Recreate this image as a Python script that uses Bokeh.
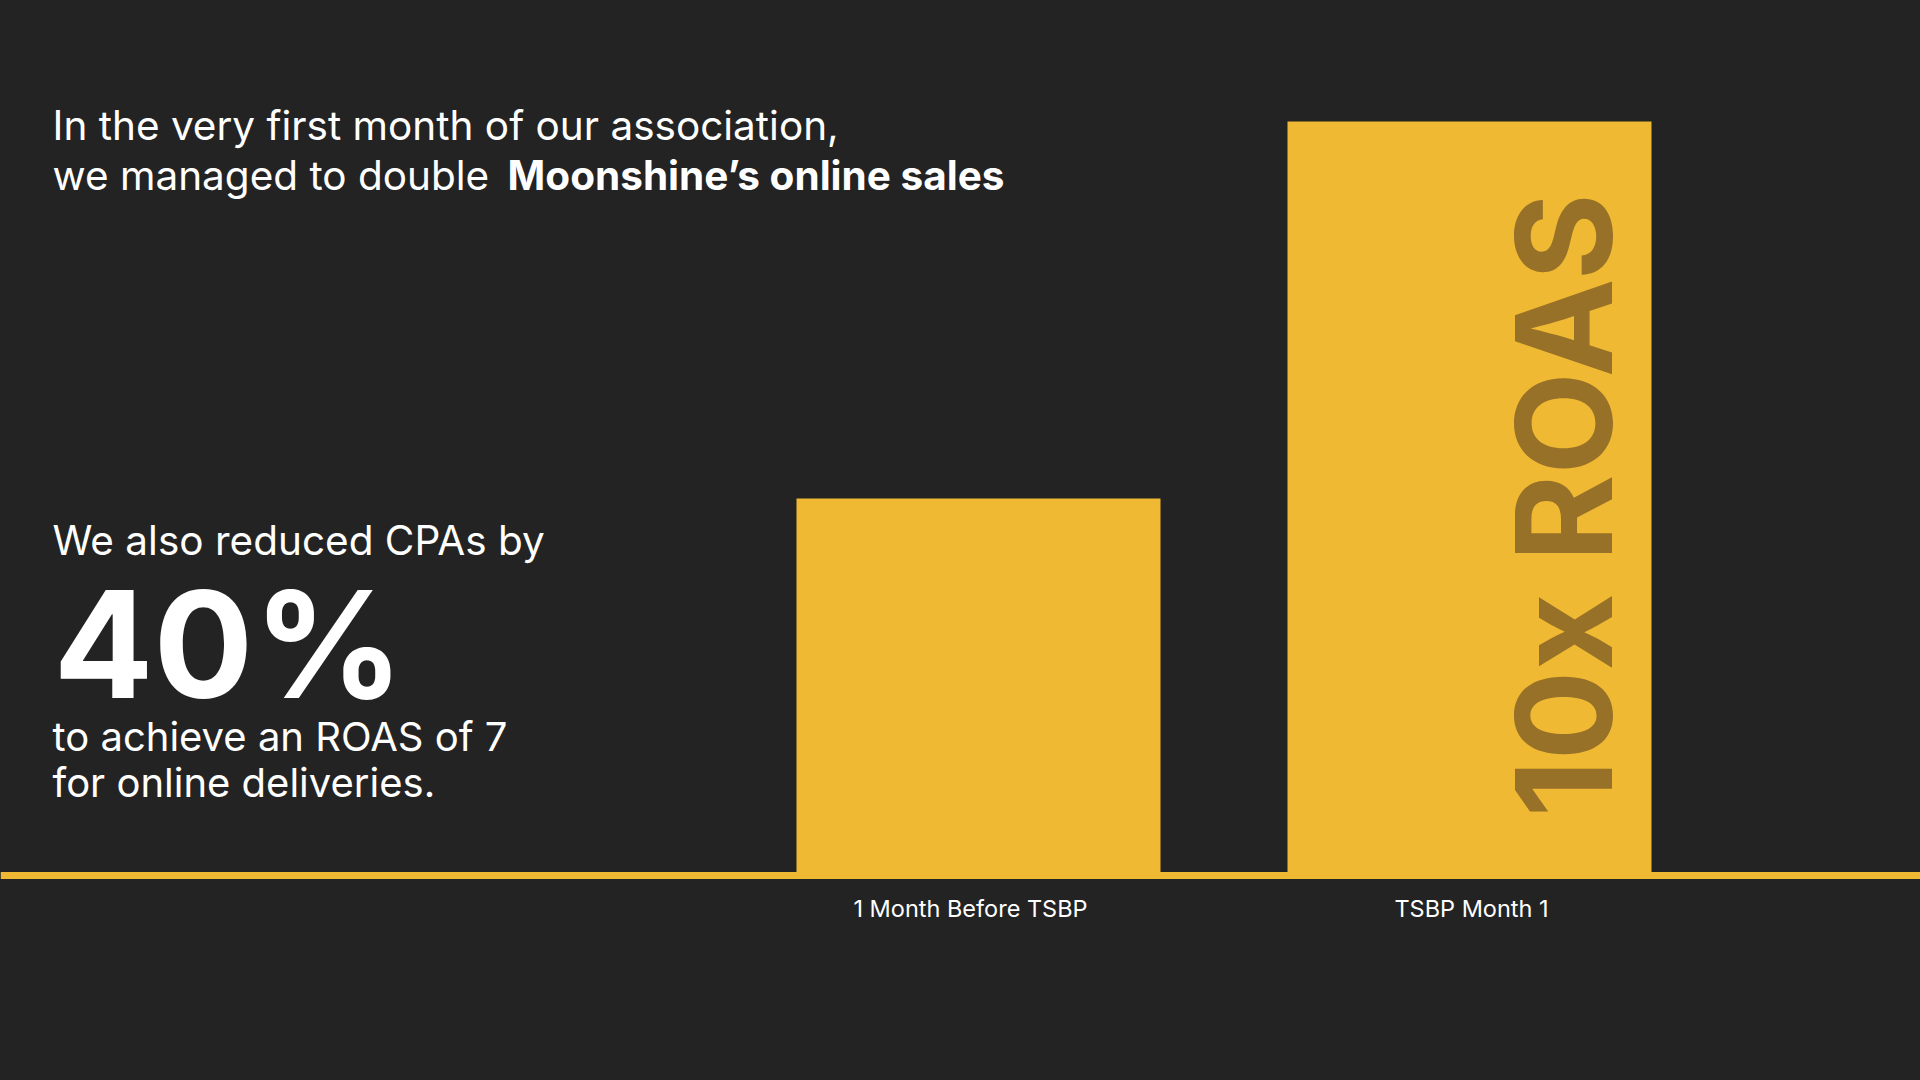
import math
from bokeh.plotting import figure
from bokeh.models import Range1d, Span, ColumnDataSource
from bokeh.core.properties import value
from bokeh.embed import file_html
from bokeh.resources import INLINE

# ---- data ----
categories = ["1 Month Before TSBP", "TSBP Month 1"]
sales_index = [1.0, 2.0]          # online sales, relative (doubled)
bar_callout = "10x ROAS"
headline_1 = "In the very first month of our association,"
headline_2a = "we managed to double"
headline_2b = "Moonshine\u2019s online sales"
cpa_intro = "We also reduced CPAs by"
cpa_value = "40%"
cpa_outro_1 = "to achieve an ROAS of 7"
cpa_outro_2 = "for online deliveries."

# ---- layout (pixels) ----
W, H = 1920, 1080
BASE_PX = 875          # baseline pixel row
UNIT_Y = 377           # pixels per sales unit
C0_PX, STEP_PX = 978, 491
BAR_W = 364 / STEP_PX

x0 = -C0_PX / STEP_PX
x1 = (W - C0_PX) / STEP_PX
y0 = -(H - BASE_PX) / UNIT_Y
y1 = BASE_PX / UNIT_Y

def dx(px):
    return x0 + px / STEP_PX

def dy(py):
    return (BASE_PX - py) / UNIT_Y

BG = "#232323"
YEL = "#F0B933"
DARK = "#977127"
FONT = "Inter"

p = figure(width=W, height=H, output_backend="svg", toolbar_location=None,
           x_range=Range1d(x0, x1), y_range=Range1d(y0, y1),
           x_axis_location=None, y_axis_location=None, min_border=0)
p.background_fill_color = BG
p.border_fill_color = BG
p.outline_line_color = None
p.grid.visible = False
p.styles = {"background-color": BG}

xs = list(range(len(categories)))
p.vbar(x=xs, top=sales_index, bottom=0, width=BAR_W, fill_color=YEL, line_color=None)
p.add_layout(Span(location=0, dimension="width", line_color=YEL, line_width=7))

# category labels under bars
lab_src = ColumnDataSource(dict(x=xs, y=[dy(908)] * len(xs), text=categories,
                                xo=[-8, 2]))
p.text(x="x", y="y", text="text", x_offset="xo", source=lab_src,
       text_font=value(FONT), text_font_size="23.5px", text_color="#FFFFFF",
       text_align="center", text_baseline="alphabetic")

# rotated callout inside the tall bar
p.text(x=[dx(1563)], y=[dy(817)], text=[bar_callout], angle=math.pi / 2,
       text_font=value(FONT), text_font_style="bold", text_font_size="133px",
       text_color=DARK, text_align="left", text_baseline="alphabetic")

def label(px, py, s, size, style="normal", align="left"):
    p.text(x=[dx(px)], y=[dy(py)], text=[s], text_font=value(FONT),
           text_font_style=style, text_font_size=size, text_color="#FFFFFF",
           text_align=align, text_baseline="alphabetic")

label(52, 125, headline_1, "40.5px")
label(52, 175, headline_2a, "40.5px")
label(1004, 175, headline_2b, "40.5px", "bold", "right")
label(52, 540, cpa_intro, "40.5px")
label(53, 644, cpa_value, "148px", "bold")
label(52, 736, cpa_outro_1, "40px")
label(52, 782, cpa_outro_2, "40px")

open("out.html", "w").write(file_html(p, INLINE))
